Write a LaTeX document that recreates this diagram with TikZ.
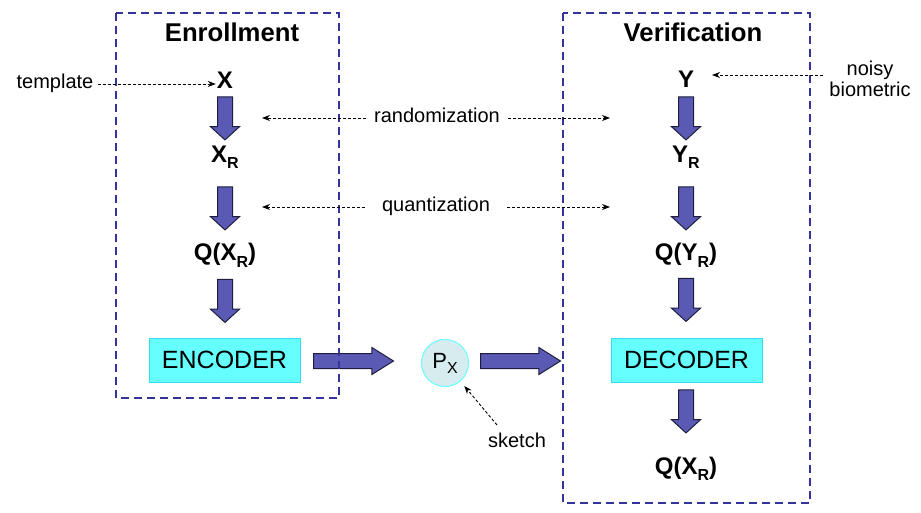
\documentclass[tikz,border=0pt]{standalone}
\usepackage{fontspec}
\setmainfont{Liberation Sans}
\usetikzlibrary{shapes.arrows,arrows.meta,calc}
\definecolor{boxblue}{HTML}{333399}
\definecolor{arrowfill}{HTML}{5A5AB4}
\definecolor{arrowline}{HTML}{1E1E3C}
\definecolor{cyanfill}{HTML}{66FFFF}
\definecolor{cyanline}{HTML}{33DDEE}
\definecolor{pxfill}{HTML}{D6ECEE}
\newcommand{\subR}{\raisebox{-6pt}{\fontsize{16}{16}\selectfont R}}
\begin{document}
\begin{tikzpicture}[x=1pt,y=-1pt,
  region/.style={draw=boxblue, line width=2pt, dash pattern=on 8pt off 5pt},
  title/.style={font=\fontsize{25.7}{27}\selectfont\bfseries, anchor=base, inner sep=0pt},
  lbl/.style={font=\fontsize{24}{26}\selectfont\bfseries, anchor=base, inner sep=1pt},
  note/.style={font=\fontsize{20}{22}\selectfont, inner sep=0pt, text height=14pt, text depth=4pt},
  codebox/.style={draw=cyanline, fill=cyanfill, line width=1pt, minimum width=151pt, minimum height=44pt, inner sep=0pt, font=\fontsize{25}{27}\selectfont},
  vfat/.style={single arrow, draw=arrowline, fill=arrowfill, line width=1pt, shape border rotate=270, minimum height=43pt, inner sep=7pt, single arrow head extend=7pt, single arrow tip angle=95},
  hfat/.style={single arrow, draw=arrowline, fill=arrowfill, line width=1pt, minimum height=80pt, inner sep=7pt, single arrow head extend=6pt, single arrow tip angle=64},
  thinarr/.style={-{Stealth[length=8pt,width=6pt]}, dash pattern=on 3pt off 2pt, line width=0.9pt, black}
]
\useasboundingbox (0,0) rectangle (921,513);

% titles
\node[title] (enr) at (232,42) {Enrollment};
\node[title] (ver) at (693,42) {Verification};

% left column
\node[lbl] (x) at (225,89) {X};
\node[lbl] (xr) at (225,163) {X\subR};
\node[lbl] (qxr) at (225,261) {Q(X\subR)};
\node[codebox] (enc) at (224.5,360) {ENCODER};
\node[vfat] (a1) at (225,115) {};
\node[vfat] (a2) at (225,205) {};
\node[vfat] (a3) at (225,297.5) {};

% right column
\node[lbl] (y) at (686,88) {Y};
\node[lbl] (yr) at (686,163) {Y\subR};
\node[lbl] (qyr) at (686,261) {Q(Y\subR)};
\node[codebox] (dec) at (686.5,360) {DECODER};
\node[lbl] (qout) at (686,474) {Q(X\subR)};
\node[vfat] (b1) at (686,115) {};
\node[vfat] (b2) at (686,205) {};
\node[vfat] (b3) at (686,296.5) {};
\node[vfat] (b4) at (686,408) {};

% sketch
\node[circle, draw=cyanfill, fill=pxfill, line width=1pt, minimum size=47pt, inner sep=0pt, font=\fontsize{22}{23}\selectfont] (px) at (445,363) {P\raisebox{-5pt}{\fontsize{16}{16}\selectfont X}};
\node[hfat] (h1) at (347.5,361) {};
\node[hfat] (h2) at (514.5,361) {};
\node[note] (sketch) at (517,442) {sketch};
\coordinate (sk) at (497,425);
\draw[thinarr, shorten >=6pt] (sk) -- (px);

% regions
\draw[region] (116,13) rectangle (339,398);
\draw[region] (563,13) rectangle (810,503);

% side notes
\node[note] (tmpl) at (55,84) {template};
\draw[thinarr] (tmpl.east) ++(4,0) coordinate (t0) -- (t0 -| x.west);
\node[note, align=center, text height=, text depth=] (noisy) at (870,79) {noisy\\[-1pt]biometric};
\coordinate (n0) at (823,75);
\coordinate (n1) at (712,75);
\draw[thinarr] (n0) -- (n1);

% randomization / quantization
\node[note, minimum width=142pt] (rand) at (437,118) {randomization};
\coordinate (rl) at (262,118);
\coordinate (rr) at (610,118);
\draw[thinarr] (rand.west) -- (rl);
\draw[thinarr] (rand.east) -- (rr);
\node[note, minimum width=142pt] (quant) at (436,207) {quantization};
\coordinate (ql) at (262,207);
\coordinate (qr) at (610,207);
\draw[thinarr] (quant.west) -- (ql);
\draw[thinarr] (quant.east) -- (qr);
\end{tikzpicture}
\end{document}
